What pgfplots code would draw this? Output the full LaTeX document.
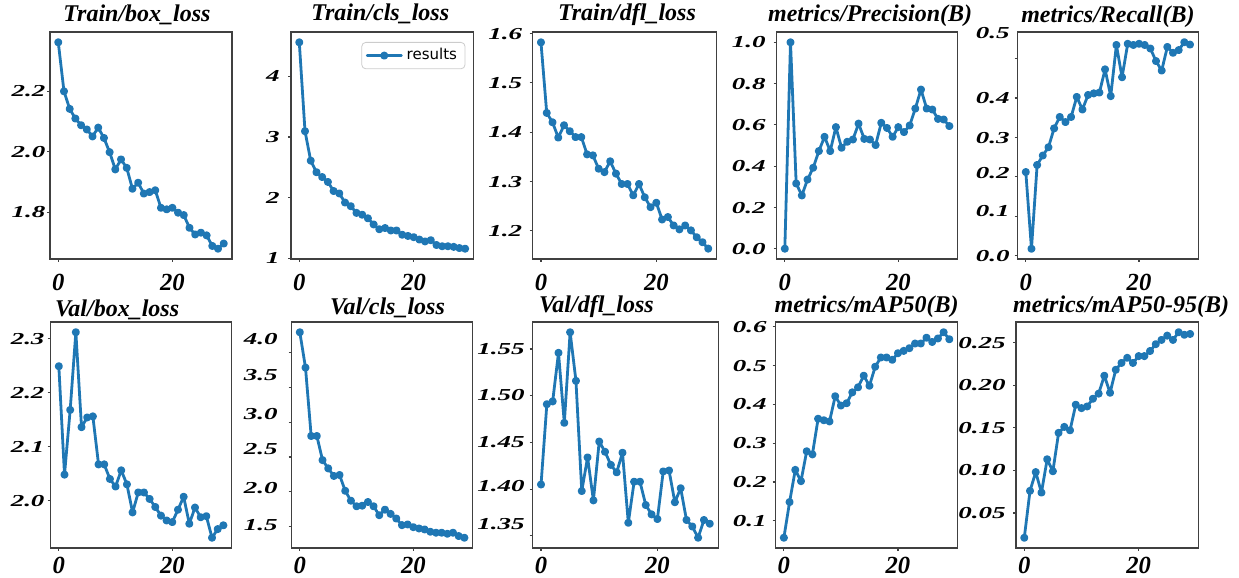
\documentclass[border=0pt]{standalone}
\usepackage{fontspec}
\setmainfont{Liberation Serif}
\newfontfamily\dejavu{DejaVu Sans}
\usepackage{graphicx}
\usepackage{pgfplots}
\pgfplotsset{compat=1.18}
\definecolor{mplblue}{HTML}{1F77B4}
\newcommand{\yl}[2][0pt]{\raisebox{#1}{\scalebox{1}[0.62]{#2}}}
\pgfplotsset{
  panel/.style={
    scale only axis,
    xmin=-1.45, xmax=30.45, xtick={0,20},
    tick align=outside, major tick length=1.5pt,
    xtick pos=bottom, ytick pos=left,
    tick style={color=black!75, line width=0.6pt},
    axis line style={black!75, line width=0.6pt},
    every axis title/.style={at={(0.5,1)}, anchor=base,
      font=\fontsize{12}{14}\selectfont\bfseries\itshape},
    xticklabel style={font=\fontsize{12.3}{14}\selectfont\bfseries\itshape, anchor=north, inner sep=0pt, yshift=-5.85pt},
    yticklabel style={font=\fontsize{13.5}{14}\selectfont\bfseries\itshape, anchor=base east, inner sep=0pt, yshift=-2.8pt},
    /pgf/number format/assume math mode=true,
  },
  row2/.style={xticklabel style={yshift=2.8pt}},
  ser/.style={color=mplblue, line width=1.4pt, line join=round, line cap=round, mark=*, mark size=1.3pt, mark options={solid}},
}
\begin{document}
\begin{tikzpicture}
\useasboundingbox (0,0) rectangle (619.5pt,289pt);
% ---------- Row 1 ----------
\begin{axis}[panel, at={(25pt,273pt)}, anchor=north west, width=91pt, height=113.5pt,
  ymin=1.646, ymax=2.396,
  title={Train/box\_loss}, title style={xshift=-2pt, yshift=5.25pt},
  ytick={1.8,2.0,2.2}, yticklabels={{\yl{1.8}},{\yl{2.0}},{\yl{2.2}}},
  yticklabel style={xshift=-0.65pt}]
\addplot[ser] coordinates {(0,2.362)(1,2.200)(2,2.142)(3,2.110)(4,2.088)(5,2.074)(6,2.051)(7,2.080)(8,2.046)(9,1.999)(10,1.942)(11,1.975)(12,1.947)(13,1.878)(14,1.898)(15,1.862)(16,1.867)(17,1.873)(18,1.815)(19,1.810)(20,1.815)(21,1.799)(22,1.791)(23,1.749)(24,1.727)(25,1.733)(26,1.724)(27,1.689)(28,1.680)(29,1.697)};
\end{axis}
\begin{axis}[panel, at={(145.5pt,273pt)}, anchor=north west, width=91.2pt, height=113.5pt,
  ymin=0.99, ymax=4.73,
  title={Train/cls\_loss}, title style={xshift=-1pt, yshift=5.5pt},
  ytick={1,2,3,4}, yticklabels={{\yl{1}},{\yl{2}},{\yl{3}},{\yl{4}}},
  yticklabel style={xshift=-4pt},
  legend style={at={(1,1)}, anchor=north east, xshift=-4pt, yshift=-5pt,
    draw=black!20, rounded corners=2pt, fill=white, fill opacity=0.8, text opacity=1,
    inner xsep=2pt, inner ysep=1pt, font=\dejavu\fontsize{7.5}{9}\selectfont},
  legend cell align=left]
\addplot[ser] coordinates {(0,4.56)(1,3.095)(2,2.61)(3,2.42)(4,2.34)(5,2.26)(6,2.11)(7,2.07)(8,1.92)(9,1.86)(10,1.75)(11,1.72)(12,1.66)(13,1.56)(14,1.48)(15,1.50)(16,1.46)(17,1.46)(18,1.39)(19,1.37)(20,1.35)(21,1.31)(22,1.28)(23,1.30)(24,1.22)(25,1.20)(26,1.20)(27,1.19)(28,1.17)(29,1.16)};
\addlegendentry{results}
\end{axis}
\begin{axis}[panel, at={(266.3pt,273pt)}, anchor=north west, width=92pt, height=113.5pt,
  ymin=1.143, ymax=1.603,
  title={Train/dfl\_loss}, title style={xshift=1.2pt, yshift=5.5pt},
  ytick={1.2,1.3,1.4,1.5,1.6}, yticklabels={{\yl{1.2}},{\yl{1.3}},{\yl{1.4}},{\yl{1.5}},{\yl{1.6}}},
  yticklabel style={xshift=-3.5pt}]
\addplot[ser] coordinates {(0,1.582)(1,1.439)(2,1.420)(3,1.389)(4,1.414)(5,1.402)(6,1.390)(7,1.390)(8,1.355)(9,1.353)(10,1.326)(11,1.319)(12,1.341)(13,1.316)(14,1.295)(15,1.295)(16,1.272)(17,1.295)(18,1.268)(19,1.248)(20,1.257)(21,1.223)(22,1.228)(23,1.211)(24,1.203)(25,1.211)(26,1.201)(27,1.187)(28,1.177)(29,1.164)};
\end{axis}
\begin{axis}[panel, at={(388.3pt,273pt)}, anchor=north west, width=90.5pt, height=113.5pt,
  ymin=-0.05, ymax=1.05,
  title={metrics/Precision(B)}, title style={xshift=1.5pt, yshift=5.2pt},
  ytick={0,0.2,0.4,0.6,0.8,1.0}, yticklabels={{\yl{0.0}},{\yl{0.2}},{\yl{0.4}},{\yl{0.6}},{\yl{0.8}},{\yl{1.0}}},
  yticklabel style={xshift=-3.85pt}]
\addplot[ser] coordinates {(0,0.0)(1,1.0)(2,0.316)(3,0.258)(4,0.335)(5,0.392)(6,0.473)(7,0.542)(8,0.473)(9,0.589)(10,0.489)(11,0.518)(12,0.529)(13,0.606)(14,0.532)(15,0.529)(16,0.502)(17,0.610)(18,0.585)(19,0.542)(20,0.589)(21,0.565)(22,0.597)(23,0.679)(24,0.771)(25,0.679)(26,0.674)(27,0.629)(28,0.626)(29,0.594)};
\end{axis}
\begin{axis}[panel, at={(508.8pt,273pt)}, anchor=north west, width=90.3pt, height=113.5pt,
  ymin=-0.009, ymax=0.568,
  title={metrics/Recall(B)}, title style={yshift=4.7pt},
  ytick={0,0.1,0.2,0.3,0.4,0.5}, yticklabels={{\yl{0.0}},{\yl[2.5pt]{0.1}},{\yl[2pt]{0.2}},{\yl{0.3}},{\yl{0.4}},{\yl[13pt]{0.5}}},
  yticklabel style={xshift=-2.35pt}]
\addplot[ser] coordinates {(0,0.212)(1,0.017)(2,0.230)(3,0.254)(4,0.275)(5,0.323)(6,0.352)(7,0.339)(8,0.352)(9,0.403)(10,0.371)(11,0.408)(12,0.412)(13,0.414)(14,0.473)(15,0.405)(16,0.535)(17,0.453)(18,0.538)(19,0.535)(20,0.538)(21,0.535)(22,0.526)(23,0.494)(24,0.470)(25,0.530)(26,0.515)(27,0.522)(28,0.542)(29,0.536)};
\end{axis}
% ---------- Row 2 ----------
\begin{axis}[panel, row2, at={(25.3pt,128pt)}, anchor=north west, width=90.5pt, height=113pt,
  ymin=1.912, ymax=2.331,
  title={Val/box\_loss}, title style={xshift=-12pt, yshift=2.5pt},
  ytick={2.0,2.1,2.2,2.3}, yticklabels={{\yl{2.0}},{\yl{2.1}},{\yl{2.2}},{\yl{2.3}}},
  yticklabel style={xshift=-1.35pt}]
\addplot[ser] coordinates {(0,2.249)(1,2.048)(2,2.168)(3,2.312)(4,2.136)(5,2.154)(6,2.156)(7,2.067)(8,2.067)(9,2.040)(10,2.026)(11,2.056)(12,2.030)(13,1.978)(14,2.015)(15,2.015)(16,2.003)(17,1.988)(18,1.972)(19,1.963)(20,1.960)(21,1.983)(22,2.007)(23,1.957)(24,1.987)(25,1.969)(26,1.971)(27,1.931)(28,1.947)(29,1.954)};
\end{axis}
\begin{axis}[panel, row2, at={(145.8pt,128pt)}, anchor=north west, width=90.5pt, height=113pt,
  ymin=1.190, ymax=4.443,
  title={Val/cls\_loss}, title style={xshift=2.7pt, yshift=3.5pt},
  ytick={1.5,2.0,2.5,3.0,3.5,4.0}, yticklabels={{\yl[1pt]{1.5}},{\yl[2pt]{2.0}},{\yl[4.2pt]{2.5}},{\yl[4.2pt]{3.0}},{\yl[6.3pt]{3.5}},{\yl[7pt]{4.0}}},
  yticklabel style={xshift=-5.35pt}]
\addplot[ser] coordinates {(0,4.295)(1,3.786)(2,2.802)(3,2.802)(4,2.455)(5,2.336)(6,2.227)(7,2.241)(8,2.013)(9,1.871)(10,1.790)(11,1.799)(12,1.852)(13,1.790)(14,1.662)(15,1.742)(16,1.681)(17,1.614)(18,1.519)(19,1.529)(20,1.490)(21,1.471)(22,1.457)(23,1.424)(24,1.410)(25,1.410)(26,1.395)(27,1.410)(28,1.362)(29,1.338)};
\end{axis}
\begin{axis}[panel, row2, at={(266.3pt,128pt)}, anchor=north west, width=92.8pt, height=113pt,
  ymin=1.337, ymax=1.579,
  title={Val/dfl\_loss}, title style={xshift=-14.5pt, yshift=4.5pt},
  ytick={1.35,1.40,1.45,1.50,1.55}, yticklabels={{\yl[6.2pt]{1.35}},{\yl[1.7pt]{1.40}},{\yl[0.5pt]{1.45}},{\yl[0.3pt]{1.50}},{\yl{1.55}}},
  yticklabel style={xshift=-2.35pt}]
\addplot[ser] coordinates {(0,1.405)(1,1.491)(2,1.494)(3,1.546)(4,1.471)(5,1.568)(6,1.516)(7,1.398)(8,1.434)(9,1.388)(10,1.451)(11,1.440)(12,1.426)(13,1.418)(14,1.439)(15,1.364)(16,1.408)(17,1.408)(18,1.383)(19,1.373)(20,1.368)(21,1.419)(22,1.420)(23,1.386)(24,1.401)(25,1.367)(26,1.360)(27,1.348)(28,1.367)(29,1.363)};
\end{axis}
\begin{axis}[panel, row2, at={(387.8pt,128pt)}, anchor=north west, width=91pt, height=113pt,
  ymin=0.0295, ymax=0.6125,
  title={metrics/mAP50(B)}, title style={yshift=4.5pt},
  ytick={0.1,0.2,0.3,0.4,0.5,0.6}, yticklabels={{\yl{0.1}},{\yl{0.2}},{\yl{0.3}},{\yl{0.4}},{\yl{0.5}},{\yl{0.6}}},
  yticklabel style={xshift=-2.85pt}]
\addplot[ser] coordinates {(0,0.056)(1,0.148)(2,0.231)(3,0.202)(4,0.279)(5,0.271)(6,0.363)(7,0.359)(8,0.356)(9,0.421)(10,0.397)(11,0.403)(12,0.431)(13,0.444)(14,0.474)(15,0.448)(16,0.497)(17,0.521)(18,0.521)(19,0.515)(20,0.532)(21,0.538)(22,0.545)(23,0.557)(24,0.557)(25,0.572)(26,0.561)(27,0.570)(28,0.586)(29,0.568)};
\end{axis}
\begin{axis}[panel, row2, at={(508pt,128pt)}, anchor=north west, width=91.2pt, height=113pt,
  ymin=0.009, ymax=0.274,
  title={metrics/mAP50-95(B)}, title style={xshift=7pt, yshift=4.8pt},
  ytick={0.05,0.10,0.15,0.20,0.25}, yticklabels={{\yl{0.05}},{\yl{0.10}},{\yl{0.15}},{\yl{0.20}},{\yl{0.25}}},
  yticklabel style={xshift=-3.5pt}]
\addplot[ser] coordinates {(0,0.021)(1,0.076)(2,0.098)(3,0.074)(4,0.113)(5,0.099)(6,0.144)(7,0.151)(8,0.147)(9,0.177)(10,0.173)(11,0.175)(12,0.184)(13,0.190)(14,0.211)(15,0.191)(16,0.218)(17,0.226)(18,0.232)(19,0.226)(20,0.234)(21,0.234)(22,0.240)(23,0.248)(24,0.253)(25,0.258)(26,0.253)(27,0.262)(28,0.259)(29,0.260)};
\end{axis}
\end{tikzpicture}
\end{document}
